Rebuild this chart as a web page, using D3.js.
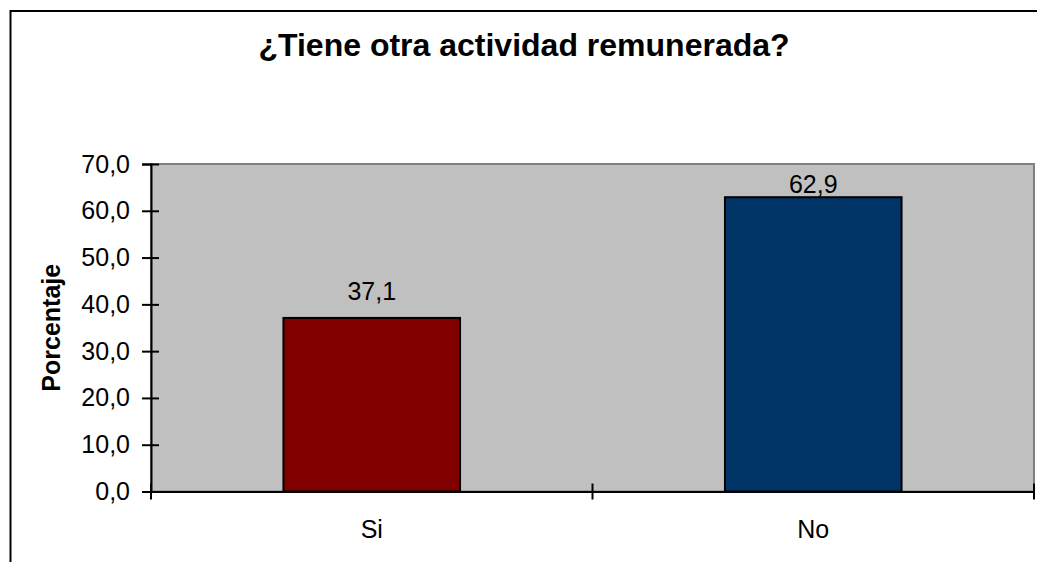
<!DOCTYPE html>
<html>
<head>
<meta charset="utf-8">
<script src="https://cdn.jsdelivr.net/npm/d3@7"></script>
<style>
  body { margin: 0; background: #fff; }
  text { font-family: "Liberation Sans", Arial, sans-serif; fill: #000; }
</style>
</head>
<body>
<script>
// data
const categories = ["Si", "No"];
const values = [37.1, 62.9];
const barColors = ["#800000", "#003366"];
const yTicks = [0, 10, 20, 30, 40, 50, 60, 70];
const titleText = "¿Tiene otra actividad remunerada?";
const yTitle = "Porcentaje";

const W = 1037, H = 562;
const plot = { left: 151, right: 1034, top: 164, bottom: 491.5 };

const svg = d3.select("body").append("svg")
    .attr("width", W)
    .attr("height", H);

// outer chart border (right/bottom run off the picture)
svg.append("rect")
    .attr("x", 10.5).attr("y", 11)
    .attr("width", 1040).attr("height", 570)
    .attr("fill", "#fff")
    .attr("stroke", "#000")
    .attr("stroke-width", 2);

var x = d3.scaleBand()
    .domain(categories)
    .range([plot.left, plot.right])
    .padding(0);

var y = d3.scaleLinear()
    .domain([0, 70])
    .range([plot.bottom, plot.top]);

// plot area
svg.append("rect")
    .attr("x", plot.left).attr("y", plot.top)
    .attr("width", plot.right - plot.left)
    .attr("height", plot.bottom - plot.top)
    .attr("fill", "#c0c0c0")
    .attr("stroke", "#808080")
    .attr("stroke-width", 2);

// bars
const barW = x.bandwidth() * 0.4;
svg.selectAll(".bar")
    .data(values)
    .enter().append("rect")
    .attr("class", "bar")
    .attr("x", (d, i) => x(categories[i]) + (x.bandwidth() - barW) / 2)
    .attr("y", d => y(d))
    .attr("width", barW)
    .attr("height", d => y(0) - y(d))
    .attr("fill", (d, i) => barColors[i])
    .attr("stroke", "#000")
    .attr("stroke-width", 2);

// value labels (kept inside the plot area like excel does)
svg.selectAll(".val")
    .data(values)
    .enter().append("text")
    .attr("class", "val")
    .attr("x", (d, i) => x(categories[i]) + x.bandwidth() / 2)
    .attr("y", d => Math.max(y(d) - 18, plot.top + 29))
    .attr("text-anchor", "middle")
    .style("font-size", "25px")
    .text(d => d.toFixed(1).replace(".", ","));

// y axis
let yAxis = svg.append("g")
    .attr("transform", `translate(${plot.left},0)`)
    .call(d3.axisLeft(y)
        .tickValues(yTicks)
        .tickSize(9)
        .tickPadding(12)
        .tickFormat(d => d.toFixed(1).replace(".", ",")));
yAxis.select(".domain").attr("stroke", "#000").attr("stroke-width", 2);
yAxis.selectAll(".tick line").attr("x1", 8).attr("stroke-width", 2);
yAxis.selectAll(".tick text")
    .style("font-size", "25px")
    .attr("fill", "#000");

// x axis
let xAxis = svg.append("g")
    .attr("transform", `translate(0,${plot.bottom})`)
    .call(d3.axisBottom(x).tickSize(0).tickPadding(29));
xAxis.select(".domain").attr("stroke", "#000").attr("stroke-width", 2);
xAxis.selectAll(".tick text")
    .style("font-size", "25px")
    .attr("fill", "#000");

// tick marks between categories (crossing)
let bounds = categories.map(c => x(c)).concat([x(categories[categories.length - 1]) + x.bandwidth()]);
xAxis.selectAll(".sep")
    .data(bounds)
    .enter().append("line")
    .attr("class", "sep")
    .attr("x1", d => d).attr("x2", d => d)
    .attr("y1", -8).attr("y2", 8)
    .attr("stroke", "#000")
    .attr("stroke-width", 2);

// titles
svg.append("text")
    .attr("x", 524)
    .attr("y", 56)
    .attr("text-anchor", "middle")
    .style("font-size", "32px")
    .style("font-weight", "bold")
    .text(titleText);

svg.append("text")
    .attr("transform", `translate(60,${(plot.top + plot.bottom) / 2}) rotate(-90)`)
    .attr("text-anchor", "middle")
    .style("font-size", "25px")
    .style("font-weight", "bold")
    .text(yTitle);
</script>
</body>
</html>
